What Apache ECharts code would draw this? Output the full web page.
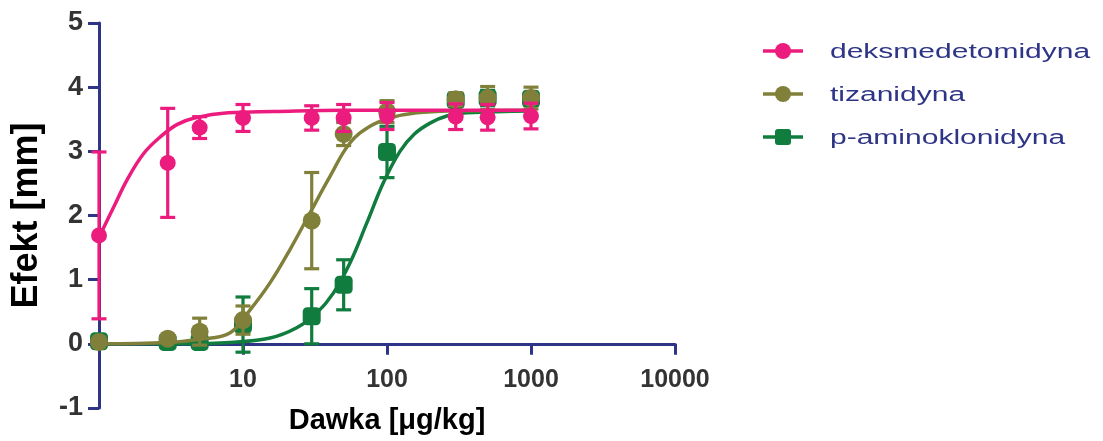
<!DOCTYPE html>
<html><head><meta charset="utf-8">
<script src="https://cdn.jsdelivr.net/npm/echarts@6/dist/echarts.min.js"></script>
<style>html,body{margin:0;padding:0;background:#fff}#c{width:1103px;height:441px}</style>
</head><body><div id="c"></div>
<script>
// ---- data ----
const doses = [1, 3, 5, 10, 30, 50, 100, 300, 500, 1000];
const seriesNames = ['deksmedetomidyna', 'tizanidyna', 'p-aminoklonidyna'];

const dexMean = [1.69, 2.82, 3.37, 3.52, 3.52, 3.52, 3.55, 3.54, 3.53, 3.55];
const dexErr  = [1.30, 0.85, 0.17, 0.21, 0.19, 0.21, 0.21, 0.20, 0.20, 0.20];

const tizMean = [0.03, 0.08, 0.19, 0.37, 1.92, 3.27, 3.62, 3.81, 3.83, 3.83];
const tizErr  = [0.00, 0.00, 0.21, 0.22, 0.75, 0.18, 0.17, 0.10, 0.18, 0.17];

const pamMean = [0.04, 0.03, 0.03, 0.30, 0.43, 0.92, 2.99, 3.80, 3.83, 3.82];
const pamErr  = [0.00, 0.00, 0.00, 0.43, 0.43, 0.39, 0.40, 0.10, 0.12, 0.10];

// fitted curves: [dose, effect]
const dexCurve = [[1, 1.66], [1.27, 2.14], [1.57, 2.56], [2.05, 2.97], [2.68, 3.23], [3.5, 3.42], [4.6, 3.52], [7.9, 3.60], [16.6, 3.62], [50, 3.64], [1000, 3.64]];
const tizCurve = [[1, 0.0], [3, 0.02], [5, 0.07], [8.1, 0.17], [11.2, 0.53], [15.4, 0.95], [21.2, 1.47], [29.2, 2.04], [40.2, 2.61], [55.3, 3.13], [76.2, 3.39], [105, 3.52], [161, 3.60], [300, 3.63], [1000, 3.64]];
const pamCurve = [[1, 0.0], [3, 0.0], [5, 0.005], [8.1, 0.02], [15.4, 0.09], [23.6, 0.25], [32.5, 0.48], [42.4, 0.79], [55.3, 1.26], [72.3, 1.88], [94.3, 2.51], [123, 3.0], [155, 3.27], [199, 3.44], [260, 3.55], [357, 3.60], [1000, 3.63]];

const xTickValues = [10, 100, 1000, 10000];
const xTickLabels = ['10', '100', '1000', '10000'];
const yTickLabels = ['-1', '0', '1', '2', '3', '4', '5'];

// ---- styling ----
const colors = ['#ec1c7e', '#80803a', '#107c3e'];
const symbols = ['circle', 'circle', 'roundRect'];
const symbolSizes = [16, 18, 18];
const navy = '#2e3587';
const means = [dexMean, tizMean, pamMean];
const errs = [dexErr, tizErr, pamErr];
const curves = [dexCurve, tizCurve, pamCurve];

const series = [];
const drawOrder = [2, 1, 0];
drawOrder.forEach((i, k) => {
  const zb = 2 + k * 4;
  series.push({
    name: seriesNames[i], type: 'line', data: curves[i], showSymbol: false,
    smooth: 0.4, z: zb,
    lineStyle: { color: colors[i], width: 3.5 }, itemStyle: { color: colors[i] },
    silent: true
  });
  series.push({
    name: seriesNames[i] + '-err', type: 'custom', z: zb + 1,
    data: doses.map((d, j) => [d, means[i][j] - errs[i][j], means[i][j] + errs[i][j]]),
    renderItem: function (params, api) {
      const lo = api.value(1), hi = api.value(2);
      if (hi - lo < 1e-6) return null;
      const p1 = api.coord([api.value(0), hi]);
      const p2 = api.coord([api.value(0), lo]);
      const hw = 7.5;
      const st = { stroke: colors[i], lineWidth: 3.2 };
      return { type: 'group', children: [
        { type: 'line', shape: { x1: p1[0], y1: p1[1], x2: p2[0], y2: p2[1] }, style: st },
        { type: 'line', shape: { x1: p1[0] - hw, y1: p1[1], x2: p1[0] + hw, y2: p1[1] }, style: st },
        { type: 'line', shape: { x1: p2[0] - hw, y1: p2[1], x2: p2[0] + hw, y2: p2[1] }, style: st }
      ]};
    },
    silent: true
  });
  series.push({
    name: seriesNames[i] + '-pts', type: 'scatter', z: zb + 2,
    data: doses.map((d, j) => [d, means[i][j]]),
    symbol: symbols[i], symbolSize: symbolSizes[i],
    itemStyle: { color: colors[i], opacity: 1 }, silent: true
  });
});

// legend drawn as graphic (text stretched horizontally like the reference)
const legendRows = [51, 94, 137];
const legendGraphics = [];
seriesNames.forEach((nm, i) => {
  const y = legendRows[i];
  legendGraphics.push({ type: 'line', shape: { x1: 763, y1: y, x2: 803, y2: y }, style: { stroke: colors[i], lineWidth: 3.5 } });
  if (symbols[i] === 'circle') {
    legendGraphics.push({ type: 'circle', shape: { cx: 783, cy: y, r: 8 }, style: { fill: colors[i] } });
  } else {
    legendGraphics.push({ type: 'rect', shape: { x: 775, y: y - 8, width: 16, height: 16, r: 3 }, style: { fill: colors[i] } });
  }
  legendGraphics.push({ type: 'text', x: 830, y: y + 1, scaleX: 1.5, style: {
    text: nm, x: 0, y: 0, fill: navy, font: '20px "Liberation Sans", Arial, sans-serif',
    verticalAlign: 'middle', align: 'left' } });
});

const option = {
  animation: false,
  backgroundColor: '#ffffff',
  grid: { left: 99, top: 23, width: 576, height: 385, containLabel: false, outerBoundsMode: 'none' },
  xAxis: {
    type: 'log', logBase: 10, min: 1, max: 10000,
    name: 'Dawka [μg/kg]', nameLocation: 'middle', nameGap: -2,
    nameTextStyle: { fontSize: 29, fontWeight: 'bold', color: '#000', fontFamily: '"Liberation Sans", Arial, sans-serif' },
    axisLine: { show: true, onZero: true, lineStyle: { color: navy, width: 3 } },
    axisTick: { show: true, length: 11, lineStyle: { color: navy, width: 3 } },
    minorTick: { show: false },
    splitLine: { show: false },
    axisLabel: {
      margin: -40, fontSize: 25, fontWeight: 'bold', color: '#333',
      fontFamily: '"Liberation Sans", Arial, sans-serif',
      formatter: v => { const k = xTickValues.findIndex(t => Math.abs(t - v) < 1e-6 * t); return k >= 0 ? xTickLabels[k] : ''; }
    }
  },
  yAxis: {
    type: 'value', min: -1, max: 5, interval: 1,
    name: 'Efekt [mm]', nameLocation: 'middle', nameGap: 54,
    nameTextStyle: { fontSize: 36, fontWeight: 'bold', color: '#000', fontFamily: '"Liberation Sans", Arial, sans-serif' },
    axisLine: { show: true, lineStyle: { color: navy, width: 3 } },
    axisTick: { show: true, length: 11, lineStyle: { color: navy, width: 3 } },
    splitLine: { show: false },
    axisLabel: {
      margin: 16, fontSize: 27, fontWeight: 'bold', color: '#333',
      fontFamily: '"Liberation Sans", Arial, sans-serif',
      formatter: v => yTickLabels[Math.round(v) + 1]
    }
  },
  graphic: legendGraphics,
  series: series
};

const chart = echarts.init(document.getElementById('c'), null, { renderer: 'canvas' });
chart.setOption(option);
</script>
</body></html>
